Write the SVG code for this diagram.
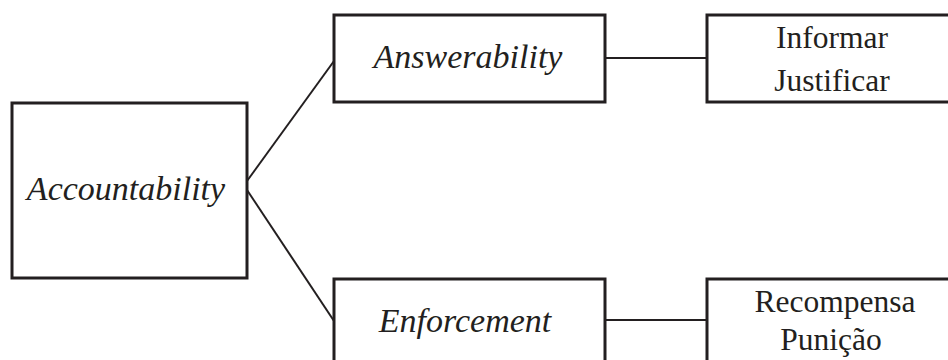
<svg xmlns="http://www.w3.org/2000/svg" width="948" height="360" viewBox="0 0 948 360">
<style>
.box{fill:#fff;stroke:#231f20;stroke-width:3}
.ln{stroke:#231f20;stroke-width:2;fill:none}
.t{fill:#231f20;text-anchor:middle}
.it{font-style:italic;font-size:34px}
.rg{font-size:31.5px}
</style>
<rect width="948" height="360" fill="#fff"/>
<g id="connectors">
<line class="ln" x1="247" y1="181" x2="334" y2="61"/>
<line class="ln" x1="247" y1="190" x2="334" y2="321"/>
<line class="ln" x1="605" y1="58" x2="707" y2="58"/>
<line class="ln" x1="605" y1="320" x2="707" y2="320"/>
</g>
<g font-family="Liberation Serif, Tinos, DejaVu Serif, serif">
<g id="accountability">
<rect class="box" x="12" y="103" width="235" height="175"/>
<text class="t it" x="126" y="200">Accountability</text>
</g>
<g id="answerability">
<rect class="box" x="334" y="15" width="271" height="87"/>
<text class="t it" x="468" y="68">Answerability</text>
</g>
<g id="enforcement">
<rect class="box" x="334" y="279" width="271" height="90"/>
<text class="t it" x="465" y="332">Enforcement</text>
</g>
<g id="informar">
<rect class="box" x="707" y="15" width="250" height="87"/>
<text class="t rg" x="832" y="48">Informar</text>
<text class="t rg" x="832" y="91">Justificar</text>
</g>
<g id="recompensa">
<rect class="box" x="707" y="279" width="250" height="90"/>
<text class="t rg" x="835" y="312">Recompensa</text>
<text class="t rg" x="831" y="350">Punição</text>
</g>
</g>
</svg>
